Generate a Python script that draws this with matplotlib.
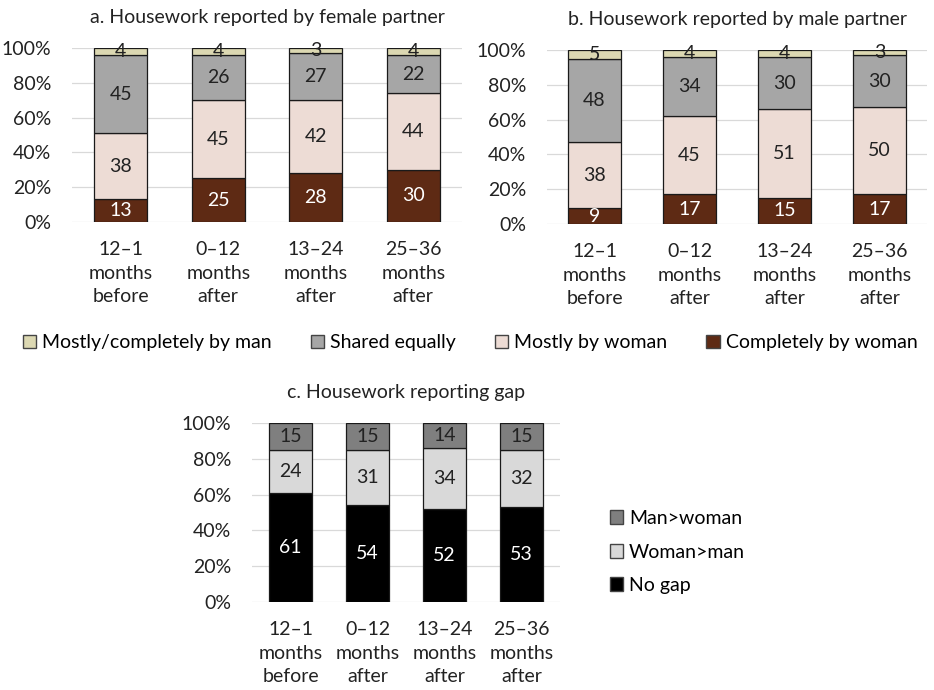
import matplotlib
matplotlib.use("Agg")
import matplotlib.pyplot as plt
from matplotlib.patches import Patch
import numpy as np

plt.rcParams["font.family"] = ["Lato", "DejaVu Sans"]

periods = ["12\u20131\nmonths\nbefore", "0\u201312\nmonths\nafter",
           "13\u201324\nmonths\nafter", "25\u201336\nmonths\nafter"]

# panels a and b: stacked from bottom
hw_labels = ["Completely by woman", "Mostly by woman", "Shared equally",
             "Mostly/completely by man"]
hw_colors = ["#5e2a14", "#eddcd5", "#a6a6a6", "#dcd8b2"]
hw_text = ["white", "#222222", "#222222", "#222222"]

female_completely = [13, 25, 28, 30]
female_mostly = [38, 45, 42, 44]
female_shared = [45, 26, 27, 22]
female_man = [4, 4, 3, 4]

male_completely = [9, 17, 15, 17]
male_mostly = [38, 45, 51, 50]
male_shared = [48, 34, 30, 30]
male_man = [5, 4, 4, 3]

# panel c
gap_labels = ["No gap", "Woman>man", "Man>woman"]
gap_colors = ["#000000", "#d9d9d9", "#7f7f7f"]
gap_text = ["white", "#222222", "#222222"]
gap_none = [61, 54, 52, 53]
gap_woman = [24, 31, 34, 32]
gap_man = [15, 15, 14, 15]

W, H = 934, 690
FS = 14
fig = plt.figure(figsize=(W / 100, H / 100), dpi=100)


def px_axes(x0, y_top, x1, y_bot):
    return fig.add_axes([x0 / W, 1 - y_bot / H, (x1 - x0) / W, (y_bot - y_top) / H])


def stacked(ax, series, colors, tcolors, width, title):
    x = np.arange(len(periods))
    bottom = np.zeros(len(periods))
    for vals, c, tc in zip(series, colors, tcolors):
        vals = np.array(vals, dtype=float)
        ax.bar(x, vals, width, bottom=bottom, color=c, edgecolor="#1a1a1a",
               linewidth=0.9, zorder=3)
        for xi, b, v in zip(x, bottom, vals):
            ax.text(xi, b + v / 2, f"{v:.0f}", ha="center", va="center",
                    fontsize=FS, color=tc, zorder=4)
        bottom += vals
    ax.set_ylim(0, 100)
    ax.set_xlim(-0.5, len(periods) - 0.5)
    ax.set_yticks(range(0, 101, 20))
    ax.set_yticklabels([f"{t}%" for t in range(0, 101, 20)])
    ax.set_xticks(x)
    ax.set_xticklabels(periods, linespacing=1.45)
    ax.tick_params(length=0, labelsize=FS, colors="#222222")
    ax.tick_params(axis="x", pad=14)
    ax.tick_params(axis="y", pad=15)
    ax.grid(axis="y", color="#d9d9d9", linewidth=0.9, zorder=0)
    for s in ax.spines.values():
        s.set_visible(False)
    ax.set_title(title, fontsize=FS, color="#222222", pad=18)


axa = px_axes(72, 48, 462, 222)
stacked(axa, [female_completely, female_mostly, female_shared, female_man],
        hw_colors, hw_text, 0.54, "a. Housework reported by female partner")

axb = px_axes(547, 50, 927, 224)
stacked(axb, [male_completely, male_mostly, male_shared, male_man],
        hw_colors, hw_text, 0.56, "b. Housework reported by male partner")

axc = px_axes(252, 423, 560, 602)
stacked(axc, [gap_none, gap_woman, gap_man], gap_colors, gap_text, 0.57,
        "c. Housework reporting gap")

# shared legend for a and b
handles = [Patch(facecolor=c, edgecolor="#444444", label=l)
           for c, l in zip(hw_colors[::-1], hw_labels[::-1])]
fig.legend(handles=handles, loc="center", bbox_to_anchor=(470 / W, 1 - 343 / H),
           ncol=4, frameon=False, fontsize=14, handlelength=0.7,
           handleheight=0.7, handletextpad=0.3, columnspacing=2.0,
           borderpad=0, borderaxespad=0)

handles_c = [Patch(facecolor=c, edgecolor="#444444", label=l)
             for c, l in zip(gap_colors[::-1], gap_labels[::-1])]
fig.legend(handles=handles_c, loc="center left",
           bbox_to_anchor=(592 / W, 1 - 552 / H), frameon=False, fontsize=FS,
           handlelength=0.7, handleheight=0.7, handletextpad=0.3,
           labelspacing=0.85)

fig.savefig("out.png", dpi=100)
